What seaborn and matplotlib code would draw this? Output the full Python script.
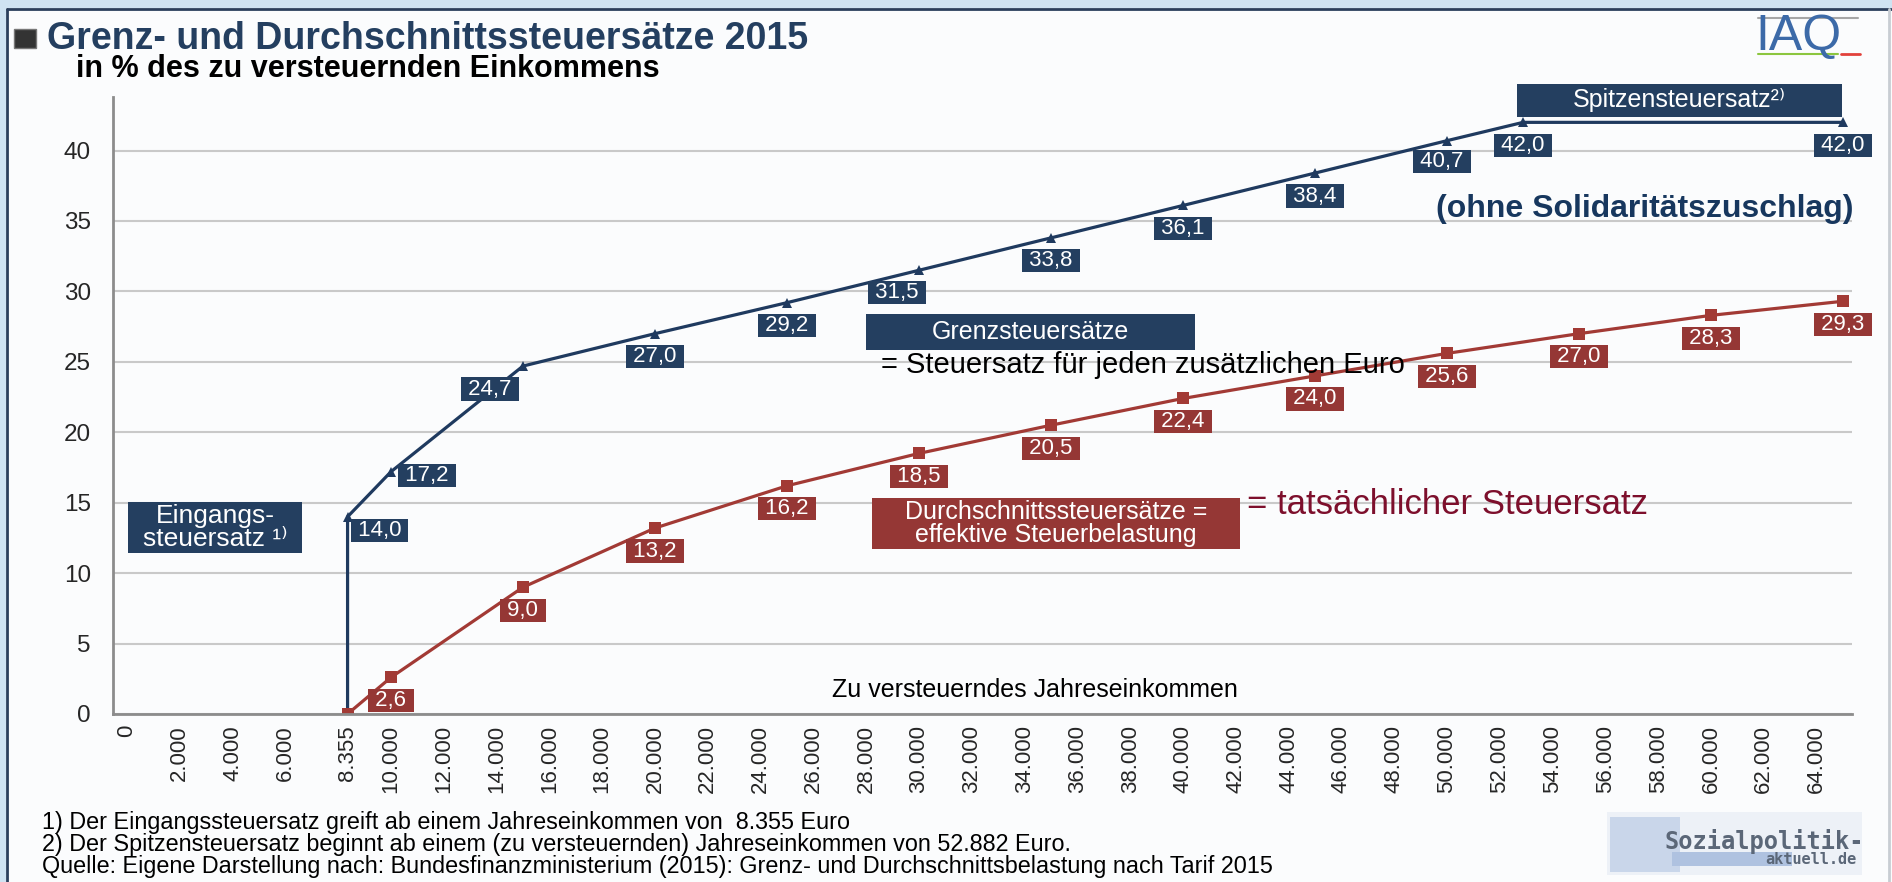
import numpy as np
import pandas as pd
import matplotlib
matplotlib.use("Agg")
import matplotlib.pyplot as plt
import seaborn as sns
from matplotlib.patches import Rectangle
from matplotlib.lines import Line2D

# ---------------- data ----------------
income_grenz = [8355, 8355, 10000, 15000, 20000, 25000, 30000, 35000, 40000, 45000, 50000, 52882, 65000]
grenz = [0.0, 14.0, 17.2, 24.7, 27.0, 29.2, 31.5, 33.8, 36.1, 38.4, 40.7, 42.0, 42.0]

income_durch = [8355, 10000, 15000, 20000, 25000, 30000, 35000, 40000, 45000, 50000, 55000, 60000, 65000]
durch = [0.0, 2.6, 9.0, 13.2, 16.2, 18.5, 20.5, 22.4, 24.0, 25.6, 27.0, 28.3, 29.3]

x_ticks = [0, 2000, 4000, 6000, 8355] + list(range(10000, 64001, 2000))
y_ticks = [0, 5, 10, 15, 20, 25, 30, 35, 40]

title = "Grenz- und Durchschnittssteuersätze 2015"
subtitle = "in % des zu versteuernden Einkommens"
x_label = "Zu versteuerndes Jahreseinkommen"
footnotes = [
    "1) Der Eingangssteuersatz greift ab einem Jahreseinkommen von  8.355 Euro",
    "2) Der Spitzensteuersatz beginnt ab einem (zu versteuernden) Jahreseinkommen von 52.882 Euro.",
    "Quelle: Eigene Darstellung nach: Bundesfinanzministerium (2015): Grenz- und Durchschnittsbelastung nach Tarif 2015",
]

# ---------------- style ----------------
W, H = 1892, 882
BLUE = "#243F60"
BLUE_LINE = "#1F3A5F"
RED = "#953735"
RED_LINE = "#A23A35"
BG = "#FBFCFD"
FAM = ["Liberation Sans", "DejaVu Sans"]

sns.set_style("white")
plt.rcParams["font.family"] = FAM

fig = plt.figure(figsize=(W / 100, H / 100), dpi=100, facecolor=BG)
ax = fig.add_axes([113 / W, 1 - 714 / H, (1852 - 113) / W, (714 - 97) / H])
ax.set_facecolor(BG)

df = pd.concat([
    pd.DataFrame({"Einkommen": income_grenz, "Satz": grenz, "Reihe": "Grenzsteuersätze"}),
    pd.DataFrame({"Einkommen": income_durch, "Satz": durch, "Reihe": "Durchschnittssteuersätze"}),
], ignore_index=True)

sns.lineplot(
    data=df, x="Einkommen", y="Satz", hue="Reihe", style="Reihe",
    hue_order=["Grenzsteuersätze", "Durchschnittssteuersätze"],
    style_order=["Grenzsteuersätze", "Durchschnittssteuersätze"],
    palette={"Grenzsteuersätze": BLUE_LINE, "Durchschnittssteuersätze": RED_LINE},
    markers={"Grenzsteuersätze": "^", "Durchschnittssteuersätze": "s"},
    dashes=False, estimator=None, sort=False, linewidth=2.3, markersize=8,
    markeredgewidth=0, legend=False, ax=ax,
)
for ln in ax.get_lines():
    if ln.get_marker() == "s":
        ln.set_markersize(8.5)
    else:
        ln.set_markersize(7.5)

ax.set_xlim(-530, 65340)
ax.set_ylim(0, 43.8)
ax.set_xticks(x_ticks)
ax.set_xticklabels([f"{v:,}".replace(",", ".") for v in x_ticks], rotation=90, fontsize=16)
ax.set_yticks(y_ticks)
ax.set_yticklabels([str(v) for v in y_ticks], fontsize=17.5)
ax.tick_params(axis="x", which="major", length=0, pad=8)
ax.set_xticks(np.linspace(-530, 65340, 34), minor=True)
ax.tick_params(axis="x", which="minor", direction="in", length=6, width=1.5, color="#8C8C8C")
ax.tick_params(axis="y", which="major", direction="out", length=7, width=1.5, color="#8C8C8C", pad=9)
ax.set_xlabel("")
ax.set_ylabel("")
ax.grid(axis="y", color="#C9C9C9", linewidth=1.5)
ax.set_axisbelow(True)
for s in ["top", "right"]:
    ax.spines[s].set_visible(False)
for s in ["left", "bottom"]:
    ax.spines[s].set_color("#8C8C8C")
    ax.spines[s].set_linewidth(2)

# data labels
P = 0.72  # px -> pt
LBL = 16
grenz_off = {1: (32, -14), 2: (36, -4), 3: (-33, -23), 6: (-22, -22), 10: (-5, -21)}
for i in range(1, len(grenz)):
    dx, dy = grenz_off.get(i, (0, -23))
    ax.annotate(f" {grenz[i]:.1f} ".replace(".", ","), (income_grenz[i], grenz[i]),
                xytext=(dx * P, dy * P), textcoords="offset points",
                ha="center", va="center", color="white", fontsize=LBL, zorder=6,
                bbox=dict(boxstyle="square,pad=0.05", fc=BLUE, ec="none"))
for i in range(1, len(durch)):
    ax.annotate(f" {durch[i]:.1f} ".replace(".", ","), (income_durch[i], durch[i]),
                xytext=(0, -23 * P), textcoords="offset points",
                ha="center", va="center", color="white", fontsize=LBL, zorder=6,
                bbox=dict(boxstyle="square,pad=0.05", fc=RED, ec="none"))


def fx(px):
    return px / W


def fy(py):
    return 1 - py / H


def box(x0, y0, x1, y1, color, text, size, ls=1.0):
    fig.patches.append(Rectangle((fx(x0), fy(y1)), (x1 - x0) / W, (y1 - y0) / H,
                                 transform=fig.transFigure, fc=color, ec="none", zorder=5))
    fig.text(fx((x0 + x1) / 2), fy((y0 + y1) / 2), text, ha="center", va="center",
             color="white", fontsize=size, zorder=6, linespacing=ls, family=FAM)


box(128, 502, 302, 553, BLUE, "Eingangs-\nsteuersatz ¹⁾", 19, 0.9)
box(866, 314, 1195, 350, BLUE, "Grenzsteuersätze", 18)
box(872, 498, 1240, 549, RED, "Durchschnittssteuersätze =\neffektive Steuerbelastung", 18, 0.95)
box(1517, 84, 1842, 117, BLUE, "Spitzensteuersatz²⁾", 18)

fig.text(fx(881), fy(365), "= Steuersatz für jeden zusätzlichen Euro", ha="left", va="center",
         fontsize=21, color="black", zorder=7)
fig.text(fx(1247), fy(505), "= tatsächlicher Steuersatz", ha="left", va="center",
         fontsize=25, color="#7D0F2C", zorder=7)
fig.text(fx(1853), fy(209), "(ohne Solidaritätszuschlag)", ha="right", va="center",
         fontsize=23, color="#17375E", fontweight="bold", zorder=7)
fig.text(fx(1035), fy(690), x_label, ha="center", va="center", fontsize=18, color="black")

# title
fig.patches.append(Rectangle((fx(14), fy(48)), 22 / W, 19 / H, transform=fig.transFigure,
                             fc="#333333", ec="#777777", lw=1))
fig.text(fx(47), fy(39), title, ha="left", va="center", fontsize=27, fontweight="bold", color=BLUE)
fig.text(fx(76), fy(69), subtitle, ha="left", va="center", fontsize=22, fontweight="bold", color="black")

# footnotes
for k, t in enumerate(footnotes):
    fig.text(fx(42), fy(822 + 22.5 * k), t, ha="left", va="center", fontsize=16.8, color="black")

# frame
fig.patches.append(Rectangle((0, fy(8)), 1, 8 / H, transform=fig.transFigure, fc="#CFE3F2", ec="none"))
fig.patches.append(Rectangle((0, 0), 6 / W, 1, transform=fig.transFigure, fc="#CFE3F2", ec="none"))
fig.lines.append(Line2D([fx(7), fx(7)], [0, fy(9)], transform=fig.transFigure, color="#2B3F5C", lw=2))
fig.lines.append(Line2D([fx(7), 1], [fy(9), fy(9)], transform=fig.transFigure, color="#2B3F5C", lw=2))
fig.lines.append(Line2D([fx(1889), fx(1889)], [0, fy(9)], transform=fig.transFigure, color="#C8CDD3", lw=2))

# IAQ logo
fig.lines.append(Line2D([fx(1758), fx(1858)], [fy(18), fy(18)], transform=fig.transFigure, color="#A6A6A6", lw=1.5))
fig.text(fx(1755), fy(37), "IAQ", ha="left", va="center", fontsize=36, color="#3C6AA8")
fig.lines.append(Line2D([fx(1758), fx(1838)], [fy(54), fy(54)], transform=fig.transFigure, color="#8CC63F", lw=1.5))
fig.lines.append(Line2D([fx(1841), fx(1860)], [fy(54), fy(54)], transform=fig.transFigure, color="#E2413B", lw=2))

# Sozialpolitik-aktuell logo
fig.patches.append(Rectangle((fx(1607), fy(875)), (1862 - 1607) / W, 63 / H, transform=fig.transFigure,
                             fc="#EDF1F7", ec="none"))
fig.patches.append(Rectangle((fx(1610), fy(872)), 70 / W, 55 / H, transform=fig.transFigure,
                             fc="#C9D6EA", ec="none"))
fig.patches.append(Rectangle((fx(1672), fy(866)), 120 / W, 14 / H, transform=fig.transFigure,
                             fc="#AFC2E0", ec="none"))
fig.text(fx(1664), fy(841), "Sozialpolitik-", ha="left", va="center", fontsize=17,
         family="DejaVu Sans Mono", fontweight="bold", color="#5B6778")
fig.text(fx(1856), fy(859), "aktuell.de", ha="right", va="center", fontsize=11,
         family="DejaVu Sans Mono", fontweight="bold", color="#5B6778")

fig.savefig("out.png", dpi=100, facecolor=BG)
